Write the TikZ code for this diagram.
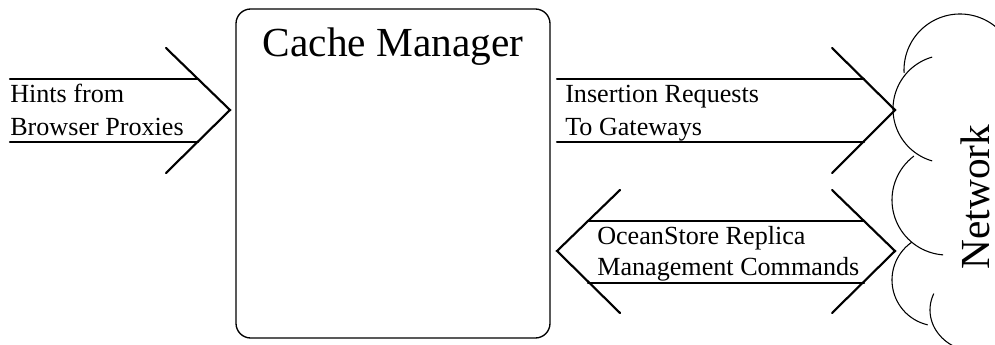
\documentclass[tikz,border=0pt]{standalone}
\usepackage{fontspec}
\setmainfont{Liberation Serif}
\begin{document}
% one unit = one pixel, y grows downwards
\begin{tikzpicture}[x=0.75pt,y=-0.75pt,
  fatline/.style={line width=1.6pt,line cap=round,line join=miter},
  cloudarc/.style={line width=0.8pt},
  boxstyle/.style={draw,line width=1pt,rounded corners=11pt,minimum width=235.5pt,minimum height=246.75pt,inner sep=0pt},
  title/.style={font=\fontsize{31}{36}\selectfont,inner sep=0pt},
  label/.style={font=\fontsize{19.6}{24}\selectfont,anchor=base west,inner sep=0pt}]
\useasboundingbox (0,0) rectangle (995,345);

% cache manager box
\node[boxstyle] (cm) at (393,173.5) {};
\node[title,anchor=base] (cmtitle) at (393,57) {Cache Manager};

% hints arrow into the cache manager
\coordinate (hA) at (10,79);  \coordinate (hB) at (10,142);
\coordinate (hC) at (198,79); \coordinate (hD) at (198,142);
\coordinate (hT1) at (166,48); \coordinate (hTip) at (230,110); \coordinate (hT2) at (166,173);
\draw[fatline] (hA) -- (hC);
\draw[fatline] (hB) -- (hD);
\draw[fatline] (hT1) -- (hTip) -- (hT2);
\node[label] (hints1) at (10,103) {Hints from};
\node[label] (hints2) at (10,136) {Browser Proxies};

% insertion requests arrow out to the network
\coordinate (iA) at (557,79);  \coordinate (iB) at (557,142);
\coordinate (iC) at (864,79);  \coordinate (iD) at (864,142);
\coordinate (iT1) at (832,48); \coordinate (iTip) at (895,110); \coordinate (iT2) at (832,173);
\draw[fatline] (iA) -- (iC);
\draw[fatline] (iB) -- (iD);
\draw[fatline] (iT1) -- (iTip) -- (iT2);
\node[label] (ins1) at (565,103) {Insertion Requests};
\node[label] (ins2) at (565,136) {To Gateways};

% two-way replica management arrow
\coordinate (rA) at (588,221); \coordinate (rB) at (588,283);
\coordinate (rC) at (864,221); \coordinate (rD) at (864,283);
\coordinate (rL1) at (620,190); \coordinate (rLtip) at (557,251); \coordinate (rL2) at (620,313);
\coordinate (rR1) at (832,190); \coordinate (rRtip) at (895,251); \coordinate (rR2) at (832,313);
\draw[fatline] (rA) -- (rC);
\draw[fatline] (rB) -- (rD);
\draw[fatline] (rL1) -- (rLtip) -- (rL2);
\draw[fatline] (rR1) -- (rRtip) -- (rR2);
\node[label] (rep1) at (597,245) {OceanStore Replica};
\node[label] (rep2) at (597,275) {Management Commands};

% network cloud, its arcs running off the right and bottom edges
\begin{scope}
\clip (0,0) rectangle (995,345);
\draw[cloudarc] plot[domain=177:330,samples=80] ({960+56*cos(\x)},{70+56*sin(\x)});
\draw[cloudarc] plot[domain=106:254,samples=80] ({947+54*cos(\x)},{109+54*sin(\x)});
\draw[cloudarc] plot[domain=94:233,samples=80] ({947+55*cos(\x)},{200+55*sin(\x)});
\draw[cloudarc] plot[domain=103:235,samples=80] ({938+46*cos(\x)},{280+46*sin(\x)});
\draw[cloudarc] plot[domain=120:203,samples=80] ({978+48*cos(\x)},{310+42*sin(\x)});
\end{scope}
\node[title,rotate=90,anchor=base] (net) at (989,197) {Network};
\end{tikzpicture}
\end{document}
